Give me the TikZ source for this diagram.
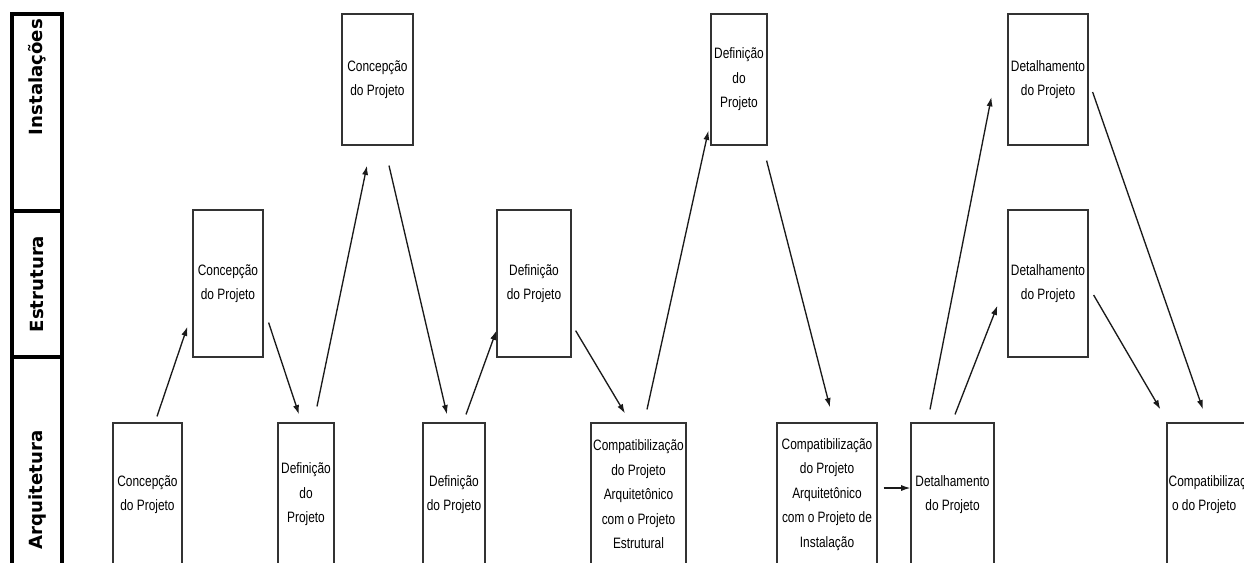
\documentclass[tikz,border=0pt]{standalone}
\usepackage{fontspec}
\newfontfamily\boxfont[FakeStretch=0.79]{Liberation Sans}
\newfontfamily\lanefont{DejaVu Sans}
\usetikzlibrary{arrows.meta}
\definecolor{boxgray}{HTML}{333333}
\definecolor{arrowgray}{HTML}{1A1A1A}
\begin{document}
\begin{tikzpicture}[x=0.75pt,y=-0.75pt,
  stage/.style 2 args={draw=boxgray, line width=0.9pt, rectangle, inner sep=0pt,
    minimum width=#1*0.75pt, minimum height=#2*0.75pt, align=center,
    font=\boxfont\fontsize{11.3}{18.4}\selectfont},
  flow/.style={draw=arrowgray, line width=1pt, -{Latex[length=7pt,width=4.6pt]}},
  lanelabel/.style={rotate=90, inner sep=0pt, font=\lanefont\bfseries\fontsize{13.6}{15}\selectfont},
  lane/.style={draw=black, line width=2.5pt}]
\clip (0,0) rectangle (1244,562);
\fill[white] (0,0) rectangle (1244,562);

% swimlane header column
\draw[lane] (12,620) -- (12,14) -- (62,14) -- (62,620);
\draw[lane] (12,211) -- (62,211);
\draw[lane] (12,357) -- (62,357);
\node[lanelabel] (lInst) at (37,77) {Instalações};
\node[lanelabel] (lEst) at (37,284) {Estrutura};
\node[lanelabel] (lArq) at (37,490) {Arquitetura};

% stages
\node[stage={69}{143}] (c1) at (147.5,494.5) {Concepção\\do Projeto};
\node[stage={70}{147}] (c2) at (228,283.5) {Concepção\\do Projeto};
\node[stage={56}{143}] (d1) at (306,494.5) {Definição\\do\\Projeto};
\node[stage={71}{131}] (c3) at (377.5,79.5) {Concepção\\do Projeto};
\node[stage={62}{143}] (d2) at (454,494.5) {Definição\\do Projeto};
\node[stage={74}{147}] (d3) at (534,283.5) {Definição\\do Projeto};
\node[stage={95}{143}] (p1) at (638.5,494.5) {Compatibilização\\do Projeto\\Arquitetônico\\com o Projeto\\Estrutural};
\node[stage={56}{131}] (d4) at (739,79.5) {Definição\\do\\Projeto};
\node[stage={100}{143}] (p2) at (827,494.5) {Compatibilização\\do Projeto\\Arquitetônico\\com o Projeto de\\Instalação};
\node[stage={83}{143}] (t1) at (952.5,494.5) {Detalhamento\\do Projeto};
\node[stage={80}{131}] (t2) at (1048,79.5) {Detalhamento\\do Projeto};
\node[stage={80}{147}] (t3) at (1048,283.5) {Detalhamento\\do Projeto};
\node[stage={93}{143}] (p3) at (1213.5,494.5) {};
\node[anchor=west, inner sep=0pt, align=left, font=\boxfont\fontsize{11.3}{18.4}\selectfont]
  (p3text) at ([shift={(2,0)}]p3.west) {Compatibilizaçã\\\hspace*{2.5pt}o do Projeto};

% flow between stages
\draw[flow] ([shift={(9.5,-6)}]c1.north) -- ([shift={(-5,-31)}]c2.south west);
\draw[flow] ([shift={(5,-35)}]c2.south east) -- ([shift={(-7,-8)}]d1.north);
\draw[flow] ([shift={(11,-16)}]d1.north) -- ([shift={(-10.5,20)}]c3.south);
\draw[flow] ([shift={(11.5,20)}]c3.south) -- ([shift={(-7,-8)}]d2.north);
\draw[flow] ([shift={(12,-8)}]d2.north) -- ([shift={(0,-27)}]d3.south west);
\draw[flow] ([shift={(4,-27)}]d3.south east) -- ([shift={(-13.5,-9)}]p1.north);
\draw[flow] ([shift={(8.5,-13)}]p1.north) -- ([shift={(-2,-15)}]d4.south west);
\draw[flow] ([shift={(-1,15)}]d4.south east) -- ([shift={(3,-15)}]p2.north);
\draw[flow] ([shift={(6,-6.5)}]p2.east) -- ([shift={(0,-6.5)}]t1.west);
\draw[flow] ([shift={(-22.5,-13)}]t1.north) -- ([shift={(-16,17.5)}]t2.west);
\draw[flow] ([shift={(2.5,-8)}]t1.north) -- ([shift={(-10,-52)}]t3.south west);
\draw[flow] ([shift={(4,12.5)}]t2.east) -- ([shift={(-10.5,-13)}]p3.north);
\draw[flow] ([shift={(5,11.5)}]t3.east) -- ([shift={(-6,-13)}]p3.north west);
\end{tikzpicture}
\end{document}
